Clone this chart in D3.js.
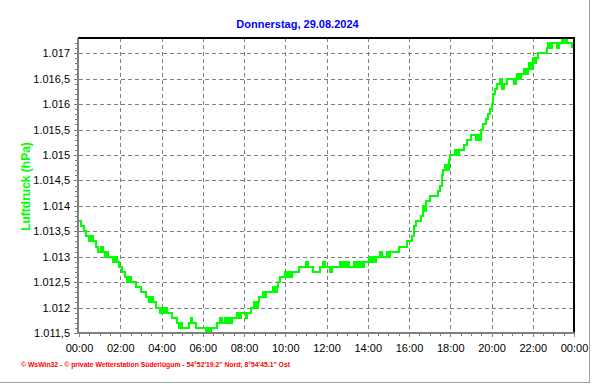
<!DOCTYPE html>
<html lang="de">

<head>
    <title>Luftdruck 29.08.2024</title>
    <meta charset="UTF-8">
    <script src="https://cdn.jsdelivr.net/npm/d3@7"></script>
    <style>
        body {
            margin: 0;
            background: #fff;
        }

        svg {
            display: block;
            font-family: "Liberation Sans", Arial, sans-serif;
        }
    </style>
</head>

<body>
    <script>
        // Messwerte alle 5 Minuten ab 00:00 (hPa), je Zeile eine Stunde
        var sampleStep = 5;
        var pressure = [
            1013.7, 1013.6, 1013.6, 1013.5, 1013.4, 1013.4, 1013.3, 1013.4, 1013.3, 1013.3, 1013.2, 1013.1,
            1013.1, 1013.2, 1013.1, 1013.0, 1013.1, 1013.0, 1013.0, 1013.0, 1012.9, 1013.0, 1012.9, 1012.8,
            1012.8, 1012.7, 1012.7, 1012.6, 1012.5, 1012.6, 1012.5, 1012.5, 1012.5, 1012.4, 1012.4, 1012.4,
            1012.3, 1012.3, 1012.3, 1012.2, 1012.2, 1012.1, 1012.2, 1012.1, 1012.1, 1012.0, 1012.0, 1011.9,
            1012.0, 1011.9, 1012.0, 1011.9, 1011.9, 1011.9, 1011.8, 1011.8, 1011.8, 1011.7, 1011.6, 1011.7,
            1011.6, 1011.6, 1011.6, 1011.6, 1011.7, 1011.8, 1011.7, 1011.7, 1011.6, 1011.6, 1011.6, 1011.6,
            1011.6, 1011.6, 1011.5, 1011.6, 1011.5, 1011.6, 1011.6, 1011.6, 1011.7, 1011.7, 1011.8, 1011.7,
            1011.7, 1011.8, 1011.7, 1011.8, 1011.7, 1011.8, 1011.8, 1011.8, 1011.9, 1011.8, 1011.9, 1011.9,
            1011.9, 1011.8, 1011.9, 1011.9, 1012.0, 1012.0, 1012.1, 1012.0, 1012.1, 1012.2, 1012.2, 1012.3,
            1012.2, 1012.3, 1012.3, 1012.3, 1012.3, 1012.4, 1012.3, 1012.4, 1012.5, 1012.6, 1012.6, 1012.6,
            1012.7, 1012.6, 1012.7, 1012.6, 1012.7, 1012.7, 1012.7, 1012.7, 1012.8, 1012.8, 1012.8, 1012.8,
            1012.9, 1012.8, 1012.8, 1012.8, 1012.7, 1012.7, 1012.7, 1012.7, 1012.8, 1012.8, 1012.9, 1012.8,
            1012.8, 1012.8, 1012.7, 1012.8, 1012.8, 1012.8, 1012.8, 1012.8, 1012.9, 1012.8, 1012.9, 1012.8,
            1012.9, 1012.8, 1012.8, 1012.8, 1012.9, 1012.8, 1012.9, 1012.8, 1012.9, 1012.8, 1012.9, 1012.9,
            1012.9, 1013.0, 1012.9, 1013.0, 1012.9, 1013.0, 1013.0, 1013.1, 1013.0, 1013.0, 1013.0, 1013.1,
            1013.0, 1013.1, 1013.1, 1013.1, 1013.1, 1013.1, 1013.2, 1013.2, 1013.2, 1013.2, 1013.2, 1013.3,
            1013.3, 1013.3, 1013.4, 1013.6, 1013.7, 1013.7, 1013.7, 1013.8, 1014.0, 1013.9, 1014.1, 1014.1,
            1014.2, 1014.2, 1014.2, 1014.2, 1014.2, 1014.3, 1014.4, 1014.6, 1014.7, 1014.8, 1014.7, 1014.9,
            1015.0, 1015.0, 1015.0, 1015.1, 1015.0, 1015.1, 1015.1, 1015.1, 1015.2, 1015.2, 1015.3, 1015.3,
            1015.4, 1015.4, 1015.4, 1015.3, 1015.4, 1015.3, 1015.5, 1015.6, 1015.6, 1015.7, 1015.8, 1015.9,
            1016.0, 1016.2, 1016.3, 1016.4, 1016.4, 1016.5, 1016.3, 1016.4, 1016.4, 1016.5, 1016.5, 1016.5,
            1016.5, 1016.4, 1016.5, 1016.6, 1016.5, 1016.6, 1016.6, 1016.7, 1016.6, 1016.7, 1016.8, 1016.7,
            1016.9, 1016.8, 1016.9, 1017.0, 1017.0, 1017.0, 1017.0, 1017.0, 1017.1, 1017.2, 1017.1, 1017.2,
            1017.2, 1017.2, 1017.1, 1017.2, 1017.2, 1017.3, 1017.2, 1017.3, 1017.2, 1017.2, 1017.2, 1017.1
        ];
        var yTicks = [1011.5, 1012, 1012.5, 1013, 1013.5, 1014, 1014.5, 1015, 1015.5, 1016, 1016.5, 1017];
        var xTickMinutes = [0, 120, 240, 360, 480, 600, 720, 840, 960, 1080, 1200, 1320, 1440];
        var xTickLabels = ['00:00', '02:00', '04:00', '06:00', '08:00', '10:00', '12:00',
            '14:00', '16:00', '18:00', '20:00', '22:00', '00:00'];
        var title = 'Donnerstag, 29.08.2024';
        var yLabel = 'Luftdruck (hPa)';
        var footer = '\u00a9 WsWin32  -  \u00a9 private Wetterstation S\u00fcderl\u00fcgum  -  54\u00b052\'19.2" Nord; 8\u00b054\'45.1" Ost';

        var width = 592,
            height = 384,
            pLeft = 79,
            pRight = 574,
            pTop = 38,
            pBottom = 333;

        var de = d3.formatLocale({ decimal: ',', thousands: '.', grouping: [3], currency: ['', ' €'] });
        var fmt = de.format(',.1~f');

        var svg = d3.select('body').append('svg')
            .attr('width', width)
            .attr('height', height);

        var x = d3.scaleLinear().domain([0, 1440]).range([pLeft, pRight]);
        var y = d3.scaleLinear().domain([1011.5, 1017]).range([pBottom, 53.3]);

        // Gitter
        var grid = svg.append('g').attr('shape-rendering', 'crispEdges');
        grid.selectAll('line.h')
            .data(yTicks.slice(1))
            .enter().append('line')
            .attr('class', 'h')
            .attr('x1', pLeft).attr('x2', pRight)
            .attr('y1', function(d) { return Math.round(y(d)) + 0.5; })
            .attr('y2', function(d) { return Math.round(y(d)) + 0.5; });
        grid.selectAll('line.v')
            .data(xTickMinutes.slice(1, -1))
            .enter().append('line')
            .attr('class', 'v')
            .attr('y1', pTop).attr('y2', pBottom)
            .attr('x1', function(d) { return Math.round(x(d)) + 0.5; })
            .attr('x2', function(d) { return Math.round(x(d)) + 0.5; });
        grid.selectAll('line')
            .attr('stroke', '#808080')
            .attr('stroke-width', 1)
            .attr('stroke-dasharray', '4,3');

        // Kurve
        var line = d3.line()
            .x(function(d, i) { return x(i * sampleStep); })
            .y(function(d) { return y(d); })
            .curve(d3.curveStepAfter);
        svg.append('path')
            .datum(pressure)
            .attr('d', line)
            .attr('fill', 'none')
            .attr('stroke', '#00ff00')
            .attr('stroke-width', 2)
            .attr('shape-rendering', 'crispEdges');

        // Achsen
        var minorY = d3.range(115, 173).map(function(v) { return v / 10 + 1000; });
        var minorX = d3.range(0, 1441, 30);

        svg.append('g')
            .attr('transform', 'translate(78,0)')
            .call(d3.axisLeft(y).tickValues(minorY).tickSize(3).tickFormat(''));
        svg.append('g')
            .attr('transform', 'translate(78,0)')
            .call(d3.axisLeft(y).tickValues(yTicks).tickSize(4).tickPadding(4).tickFormat(fmt));
        svg.append('g')
            .attr('transform', 'translate(0,' + pBottom + ')')
            .call(d3.axisBottom(x).tickValues(minorX).tickSize(3).tickFormat(''));
        svg.append('g')
            .attr('transform', 'translate(0,' + pBottom + ')')
            .call(d3.axisBottom(x).tickValues(xTickMinutes).tickSize(4).tickPadding(7)
                .tickFormat(function(d, i) { return xTickLabels[i]; }));

        svg.selectAll('.domain').remove();
        svg.selectAll('.tick line').attr('stroke', '#808080').attr('shape-rendering', 'crispEdges');
        svg.selectAll('.tick text').attr('fill', '#000').attr('font-size', 11)
            .attr('font-family', '"Liberation Sans", Arial, sans-serif');

        // Rahmen
        var frame = svg.append('g').attr('shape-rendering', 'crispEdges');
        frame.append('line').attr('x1', pLeft - 1).attr('x2', pRight + 1).attr('y1', pTop).attr('y2', pTop)
            .attr('stroke', '#000').attr('stroke-width', 1.5);
        frame.append('line').attr('x1', pRight).attr('x2', pRight).attr('y1', pTop).attr('y2', pBottom)
            .attr('stroke', '#000').attr('stroke-width', 2);
        frame.append('line').attr('x1', 78).attr('x2', 78).attr('y1', pTop).attr('y2', pBottom + 1)
            .attr('stroke', '#808080').attr('stroke-width', 2.5);
        frame.append('line').attr('x1', 77).attr('x2', pRight + 1).attr('y1', pBottom).attr('y2', pBottom)
            .attr('stroke', '#808080').attr('stroke-width', 2.5);
        frame.append('line').attr('x1', 589.5).attr('x2', 589.5).attr('y1', 0).attr('y2', 383)
            .attr('stroke', '#a0a0a0').attr('stroke-width', 1);
        frame.append('line').attr('x1', 0).attr('x2', 590).attr('y1', 382.5).attr('y2', 382.5)
            .attr('stroke', '#a0a0a0').attr('stroke-width', 1);

        // Texte
        svg.append('text')
            .attr('x', 297.5).attr('y', 28)
            .attr('text-anchor', 'middle')
            .attr('font-size', 11).attr('font-weight', 'bold')
            .attr('fill', '#0000ff')
            .text(title);
        svg.append('text')
            .attr('transform', 'translate(30,186.5) rotate(-90)')
            .attr('text-anchor', 'middle')
            .attr('font-size', 12).attr('font-weight', 'bold')
            .attr('fill', '#00ff00')
            .text(yLabel);
        svg.append('text')
            .attr('x', 21).attr('y', 367)
            .attr('font-size', 7).attr('font-weight', 'bold')
            .attr('fill', '#ff0000')
            .attr('textLength', 269).attr('lengthAdjust', 'spacingAndGlyphs')
            .text(footer);
    </script>
</body>

</html>
